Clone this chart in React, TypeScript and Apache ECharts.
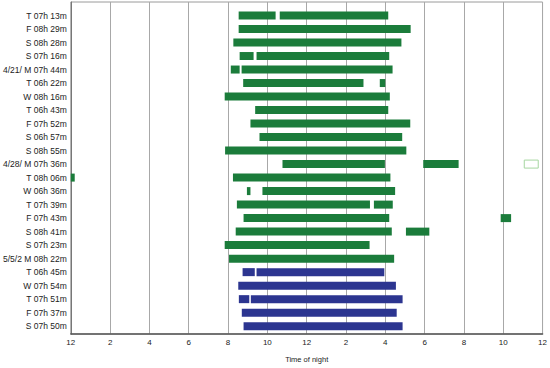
import React, { useEffect, useRef } from "react";
import * as echarts from "echarts";

const categories = [
  "T 07h 13m", "F 08h 29m", "S 08h 28m", "S 07h 16m", "4/21/ M 07h 44m", "T 06h 22m",
  "W 08h 16m", "T 06h 43m", "F 07h 52m", "S 06h 57m", "S 08h 55m", "4/28/ M 07h 36m",
  "T 08h 06m", "W 06h 36m", "T 07h 39m", "F 07h 43m", "S 08h 41m", "S 07h 23m",
  "5/5/2 M 08h 22m", "T 06h 45m", "W 07h 54m", "T 07h 51m", "F 07h 37m", "S 07h 50m",
];

const xTickLabels = ["12", "2", "4", "6", "8", "10", "12", "2", "4", "6", "8", "10", "12"];

// [row index, start hour (from noon), end hour]
const greenSegments = [
  [0, 8.54, 10.42], [0, 10.63, 16.15],
  [1, 8.54, 17.29],
  [2, 8.27, 16.82],
  [3, 8.59, 9.3], [3, 9.45, 16.2],
  [4, 8.14, 8.59], [4, 8.69, 16.37],
  [5, 8.77, 14.89], [5, 15.72, 16.0],
  [6, 7.83, 16.23],
  [7, 9.38, 16.15],
  [8, 9.14, 17.27],
  [9, 9.6, 16.86],
  [10, 7.85, 17.07],
  [11, 10.77, 15.98], [11, 17.93, 19.73],
  [12, 0.0, 0.2], [12, 8.25, 16.26],
  [13, 8.96, 9.14], [13, 9.75, 16.5],
  [14, 8.45, 15.22], [14, 15.42, 16.38],
  [15, 8.79, 16.2], [15, 21.87, 22.4],
  [16, 8.39, 16.33], [16, 17.05, 18.24],
  [17, 7.83, 15.2],
  [18, 8.05, 16.45],
];

const blueSegments = [
  [19, 8.74, 9.36], [19, 9.45, 15.95],
  [20, 8.52, 16.54],
  [21, 8.55, 9.08], [21, 9.16, 16.88],
  [22, 8.7, 16.58],
  [23, 8.79, 16.88],
];

const outlineSegments = [[11, 23.07, 23.78]];

const FONT = "Liberation Sans, Arial, sans-serif";

function makeSeries(name: string, data: number[][], fill: string, stroke?: string) {
  return {
    type: "custom",
    name,
    data,
    encode: { x: [1, 2], y: 0 },
    clip: false,
    renderItem: (_params: any, api: any) => {
      const row = api.value(0);
      const p1 = api.coord([api.value(1), row]);
      const p2 = api.coord([api.value(2), row]);
      const h = 8;
      return {
        type: "rect",
        shape: { x: p1[0], y: p1[1] - h / 2, width: p2[0] - p1[0], height: h },
        style: stroke ? { fill, stroke, lineWidth: 1 } : { fill },
      };
    },
  };
}

export default function App() {
  const ref = useRef<HTMLDivElement>(null);
  useEffect(() => {
    if (!ref.current) return;
    const chart = echarts.init(ref.current, undefined, { renderer: "svg" });
    chart.setOption({
      animation: false,
      backgroundColor: "#ffffff",
      grid: {
        left: 67,
        right: 5,
        top: 2,
        bottom: 29,
        show: true,
        borderColor: "#9a9a9a",
        borderWidth: 1,
        containLabel: false,
      },
      xAxis: {
        type: "value",
        min: 0,
        max: 24,
        interval: 2,
        name: "Time of night",
        nameLocation: "middle",
        nameGap: 21,
        nameTextStyle: { fontFamily: FONT, fontSize: 7.5, color: "#222" },
        axisLine: { show: true, onZero: false, lineStyle: { color: "#555", width: 1.5 } },
        axisTick: { show: false },
        axisLabel: {
          fontFamily: FONT,
          fontSize: 8,
          color: "#222",
          margin: 4,
          formatter: (v: number) => xTickLabels[Math.round(v / 2)] ?? "",
        },
        splitLine: { show: true, lineStyle: { color: "#a8a8a8", width: 1 } },
      },
      yAxis: {
        type: "value",
        inverse: true,
        min: -1,
        max: 23.58,
        interval: 1,
        axisLine: { show: true, onZero: false, lineStyle: { color: "#777", width: 1 } },
        axisTick: { show: false },
        splitLine: { show: false },
        axisLabel: {
          fontFamily: FONT,
          fontSize: 8.5,
          color: "#222",
          margin: 4,
          showMaxLabel: false,
          formatter: (v: number) =>
            Number.isInteger(v) && v >= 0 && v < categories.length ? categories[v] : "",
        },
      },
      series: [
        makeSeries("green", greenSegments, "#1b7c3b"),
        makeSeries("blue", blueSegments, "#2c3590"),
        makeSeries("outline", outlineSegments, "#ffffff", "#a6d6a0"),
      ],
    });
    return () => chart.dispose();
  }, []);
  return (
    <div
      ref={ref}
      style={{ position: "fixed", left: 0, top: 0, width: 550, height: 368 }}
    />
  );
}
